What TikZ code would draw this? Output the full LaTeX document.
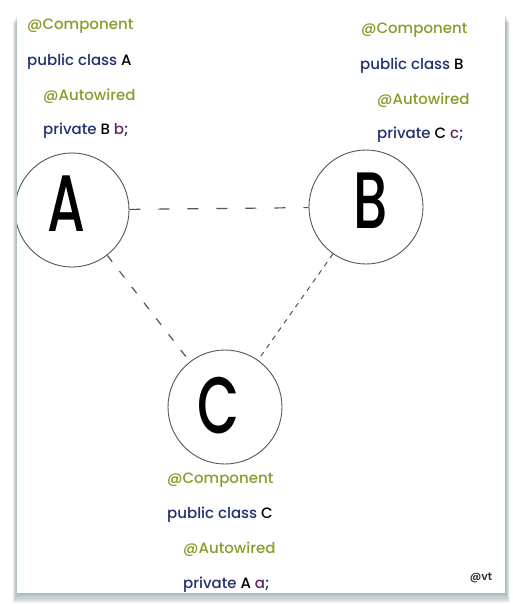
\documentclass[tikz,border=0pt]{standalone}
\usepackage{fontspec}
\setmainfont{Poppins}[UprightFont={* Medium}, BoldFont={* SemiBold}]
\newfontfamily\bigletters{Poppins}[UprightFont={* Medium}, FakeStretch=0.68]
\definecolor{olivec}{HTML}{8C9A2A}
\definecolor{navyc}{HTML}{23306E}
\definecolor{purpc}{HTML}{5E2B5E}
\definecolor{linec}{HTML}{555555}
\definecolor{shadc}{HTML}{6F8E92}
\tikzset{
  ann/.style={anchor=west, text=olivec, font=\fontsize{15}{16}\selectfont, inner sep=0pt},
  cls/.style={anchor=west, text=navyc, font=\fontsize{15}{16}\selectfont, inner sep=0pt},
  bean/.style={circle, draw=linec, line width=0.9pt, minimum size=114pt, inner sep=0pt},
  letter/.style={inner sep=0pt, font=\bigletters\fontsize{80}{82}\selectfont},
  dep/.style={draw=linec, line width=1.2pt},
}
\begin{document}
\begin{tikzpicture}[x=1pt,y=-1pt]
\useasboundingbox (0,0) rectangle (513,604);
\fill[white] (0,0) rectangle (513,604);
% shadow
\foreach \i in {0,...,9}{
  \fill[shadc, opacity=0.09] (17-0.5*\i,14+\i) rectangle (505+0.5*\i,593+1.1*\i);
}
\fill[white] (17,13) rectangle (505,593);
% circles
\begin{scope}
\clip (17,13) rectangle (505,593);
\node[bean] (A) at (72,210) {};
\end{scope}
\node[bean] (B) at (366,207) {};
\node[bean] (C) at (225,407) {};
\node[letter] (Al) at (66,204) {A};
\node[letter] (Bl) at (371,201) {B};
\node[letter] (Cl) at (219,406) {C};
% connectors
\draw[dep, dash pattern=on 11pt off 18pt] (A) -- (B);
\draw[dep, dash pattern=on 8pt off 12pt] (A) -- (C);
\draw[dep, line width=1pt, dash pattern=on 5pt off 5pt] (B) -- (C);
% block A
\node[ann] (a1) at (27,26) {@Component};
\node[cls] (a2) at (27,62) {public class \textcolor{black}{A}};
\node[ann] (a3) at (43,96) {@Autowired};
\node[cls] (a4) at (43,131) {private \textcolor{black}{B} \textcolor{purpc}{b};};
% block B
\node[ann] (b1) at (361,30) {@Component};
\node[cls] (b2) at (360,66) {public class \textcolor{black}{B}};
\node[ann] (b3) at (377,100) {@Autowired};
\node[cls] (b4) at (377,135) {private \textcolor{black}{C} \textcolor{purpc}{c};};
% block C
\node[ann] (c1) at (167,480) {@Component};
\node[cls] (c2) at (167,515) {public class \textcolor{black}{C}};
\node[ann] (c3) at (183,549) {@Autowired};
\node[cls] (c4) at (183,585) {private \textcolor{black}{A} \textcolor{purpc}{a};};
% signature
\node[anchor=center, inner sep=0pt, font=\fontsize{11}{12}\selectfont\bfseries, text=black!80] (sig) at (481,578) {@vt};
\end{tikzpicture}
\end{document}
